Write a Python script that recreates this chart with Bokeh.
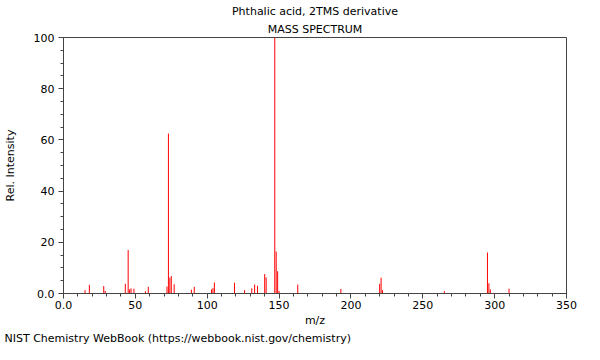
from bokeh.plotting import figure
from bokeh.models import FixedTicker, Title, ColumnDataSource
from bokeh.embed import file_html
from bokeh.resources import INLINE

mz = [15, 18, 28, 29, 43, 45, 46, 47, 49, 57, 59, 72, 73, 74, 75, 77, 89, 91,
      103, 104, 105, 119, 126, 131, 133, 135, 140, 141, 147, 148, 149, 150, 163,
      193, 220, 221, 222, 265, 295, 296, 297, 310]
intensity = [1.3, 3.4, 2.9, 1.0, 3.8, 17.0, 1.6, 2.0, 1.9, 0.9, 2.6, 2.7, 62.5, 6.2, 6.8, 3.6, 1.5, 2.6,
             1.6, 2.1, 4.3, 4.2, 1.3, 2.0, 3.5, 3.0, 7.6, 6.3, 100, 16.4, 8.7, 1.0, 3.5,
             1.8, 3.8, 6.2, 1.3, 0.9, 16.0, 4.0, 1.6, 1.9]

x_ticks = [0, 50, 100, 150, 200, 250, 300, 350]
x_labels = ["0.0", "50", "100", "150", "200", "250", "300", "350"]
y_ticks = [0, 20, 40, 60, 80, 100]
y_labels = ["0.0", "20", "40", "60", "80", "100"]

title1 = "Phthalic acid, 2TMS derivative"
title2 = "MASS SPECTRUM"
footer = "NIST Chemistry WebBook (https://webbook.nist.gov/chemistry)"

FONT = "DejaVu Sans"

p = figure(width=584, height=344, output_backend="svg", toolbar_location=None,
           x_range=(0, 350), y_range=(0, 100),
           min_border_left=62, min_border_right=18, min_border_top=37, min_border_bottom=10)
p.background_fill_color = "white"
p.border_fill_color = "white"
p.outline_line_color = "#444444"
p.outline_line_width = 1
p.grid.visible = False

src = ColumnDataSource(dict(x=mz, y0=[0] * len(mz), y1=intensity))
p.segment(x0="x", y0="y0", x1="x", y1="y1", source=src, line_color="#ff0000", line_width=1)

p.xaxis.ticker = FixedTicker(ticks=x_ticks, minor_ticks=list(range(0, 351, 10)))
p.yaxis.ticker = FixedTicker(ticks=y_ticks, minor_ticks=list(range(0, 101, 5)))
p.xaxis.major_label_overrides = {t: l for t, l in zip(x_ticks, x_labels)}
p.yaxis.major_label_overrides = {t: l for t, l in zip(y_ticks, y_labels)}

for ax in (p.xaxis, p.yaxis):
    ax.axis_line_color = "#444444"
    ax.major_tick_line_color = "#444444"
    ax.minor_tick_line_color = "#444444"
    ax.major_tick_out = 5
    ax.major_tick_in = 0
    ax.minor_tick_out = 3
    ax.minor_tick_in = 0
    ax.major_label_text_font = FONT
    ax.major_label_text_font_size = "11px"
    ax.major_label_text_color = "black"
    ax.axis_label_text_font = FONT
    ax.axis_label_text_font_size = "11px"
    ax.axis_label_text_font_style = "normal"
    ax.axis_label_text_color = "black"

p.xaxis.axis_label = "m/z"
p.yaxis.axis_label = "Rel. Intensity"
p.xaxis.major_label_standoff = 2
p.yaxis.major_label_standoff = 4
p.xaxis.axis_label_standoff = 2
p.yaxis.axis_label_standoff = 14

# titles: the last added "above" sits closest to the frame
p.add_layout(Title(text=title2, align="center", text_font=FONT, text_font_size="11px",
                   text_font_style="normal", text_color="black", standoff=3), "above")
p.add_layout(Title(text=title1, align="center", text_font=FONT, text_font_size="11px",
                   text_font_style="normal", text_color="black", standoff=3), "above")
p.add_layout(Title(text=footer, align="left", text_font=FONT, text_font_size="11px",
                   text_font_style="normal", text_color="black", offset=-59, standoff=0), "below")

open("out.html", "w").write(file_html(p, INLINE))
